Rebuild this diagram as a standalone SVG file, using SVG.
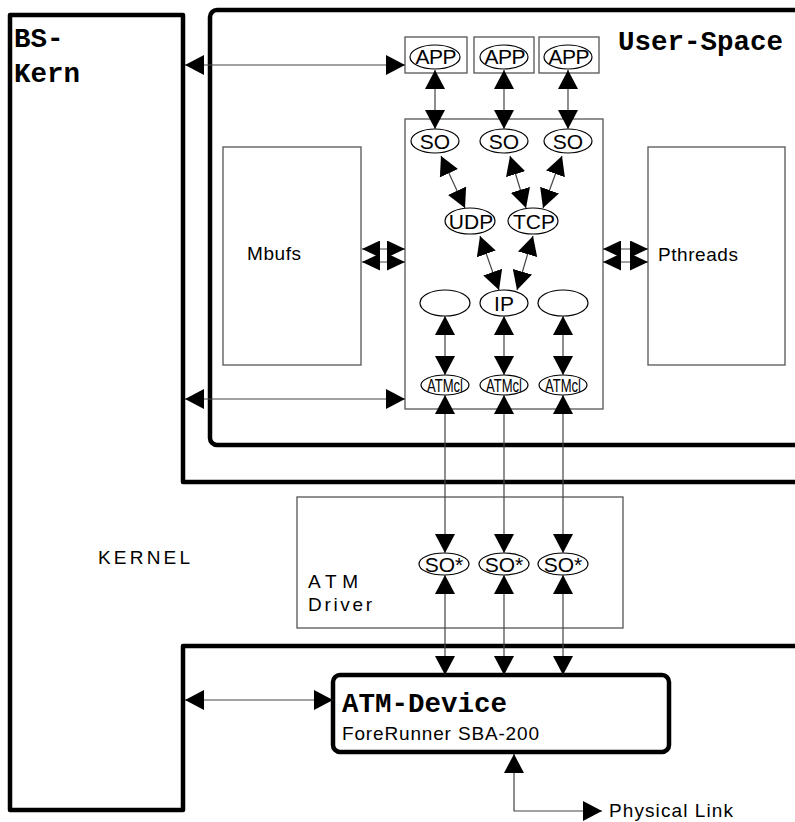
<svg xmlns="http://www.w3.org/2000/svg" width="795" height="822" viewBox="0 0 795 822">
<style>
.thick{fill:none;stroke:#000;stroke-width:4.5;stroke-linejoin:round}
.box{fill:#fff;stroke:#555;stroke-width:1.3}
.ell{fill:#fff;stroke:#000;stroke-width:1.2}
.con{fill:none;stroke:#444;stroke-width:1.2;marker-start:url(#ah);marker-end:url(#ah)}
.con2{fill:none;stroke:#444;stroke-width:1.2;marker-start:url(#as);marker-end:url(#as)}
.mono{font-family:"Liberation Mono","Courier New",monospace;font-weight:bold;font-size:27.5px;fill:#000}
.sans{font-family:"Liberation Sans",Arial,sans-serif;font-size:19px;fill:#000}
.el{font-family:"Liberation Sans",Arial,sans-serif;font-size:21px;fill:#000;text-anchor:middle}
.atm{font-family:"Liberation Sans",Arial,sans-serif;font-size:19px;fill:#000;text-anchor:middle}
</style>
<defs>
<marker id="ah" viewBox="0 0 19 20" refX="19" refY="10" markerWidth="19" markerHeight="20" markerUnits="userSpaceOnUse" orient="auto-start-reverse"><path d="M0,0 L19,10 L0,20 z" fill="#000"/></marker>
<marker id="as" viewBox="0 0 18 17" refX="18" refY="8.5" markerWidth="18" markerHeight="17" markerUnits="userSpaceOnUse" orient="auto-start-reverse"><path d="M0,0 L18,8.5 L0,17 z" fill="#000"/></marker>
</defs>
<rect width="795" height="822" fill="#fff"/>

<g id="kernel">
<path class="thick" d="M800,482 H183 V15 H10 V810 H183 V646 H800"/>
<text class="mono" x="14" y="47">BS-</text>
<text class="mono" x="14" y="82">Kern</text>
<text class="sans" x="98" y="564" font-size="16" textLength="92">KERNEL</text>
</g>

<g id="user-space">
<rect class="thick" x="210" y="10" width="640" height="435" rx="7"/>
<text class="mono" x="618" y="50">User-Space</text>
</g>

<g id="mbufs">
<rect class="box" x="223" y="147" width="138" height="218"/>
<text class="sans" x="247" y="260" textLength="54">Mbufs</text>
</g>

<g id="pthreads">
<rect class="box" x="648" y="147" width="137" height="218"/>
<text class="sans" x="658" y="261" textLength="80">Pthreads</text>
</g>

<g id="stack">
<rect class="box" x="405" y="119" width="198" height="290"/>
</g>

<g id="app1"><rect class="box" x="405" y="37" width="62" height="36"/><ellipse class="ell" cx="435" cy="57" rx="25" ry="12"/><text class="el" x="436" y="64" textLength="41">APP</text></g>
<g id="app2"><rect class="box" x="474" y="37" width="60" height="36"/><ellipse class="ell" cx="504" cy="57" rx="24" ry="12"/><text class="el" x="505" y="64" textLength="41">APP</text></g>
<g id="app3"><rect class="box" x="539" y="37" width="60" height="36"/><ellipse class="ell" cx="568" cy="57" rx="24" ry="12"/><text class="el" x="569" y="64" textLength="41">APP</text></g>

<g id="so1"><ellipse class="ell" cx="435" cy="141" rx="24" ry="12"/><text class="el" x="435" y="149">SO</text></g>
<g id="so2"><ellipse class="ell" cx="504" cy="141" rx="24" ry="12"/><text class="el" x="504" y="149">SO</text></g>
<g id="so3"><ellipse class="ell" cx="568" cy="141" rx="24" ry="12"/><text class="el" x="568" y="149">SO</text></g>

<g id="udp"><ellipse class="ell" cx="470" cy="221" rx="25" ry="13"/><text class="el" x="471" y="229">UDP</text></g>
<g id="tcp"><ellipse class="ell" cx="533" cy="221" rx="25" ry="13"/><text class="el" x="534" y="229">TCP</text></g>

<g id="e1"><ellipse class="ell" cx="445" cy="303" rx="25" ry="13"/></g>
<g id="ip"><ellipse class="ell" cx="504" cy="303" rx="24" ry="13"/><text class="el" x="504" y="311">IP</text></g>
<g id="e3"><ellipse class="ell" cx="563" cy="303" rx="25" ry="13"/></g>

<g id="atmcl1"><ellipse class="ell" cx="445" cy="385" rx="24" ry="10"/><text class="atm" x="445" y="392" textLength="36" lengthAdjust="spacingAndGlyphs">ATMcl</text></g>
<g id="atmcl2"><ellipse class="ell" cx="504" cy="385" rx="24" ry="10"/><text class="atm" x="504" y="392" textLength="36" lengthAdjust="spacingAndGlyphs">ATMcl</text></g>
<g id="atmcl3"><ellipse class="ell" cx="563" cy="385" rx="24" ry="10"/><text class="atm" x="563" y="392" textLength="36" lengthAdjust="spacingAndGlyphs">ATMcl</text></g>

<g id="atm-driver">
<rect class="box" x="297" y="497" width="326" height="131"/>
<text class="sans" x="308" y="588" font-size="18" textLength="50">ATM</text>
<text class="sans" x="308" y="611" font-size="18" textLength="64">Driver</text>
</g>
<g id="sostar1"><ellipse class="ell" cx="444" cy="564" rx="25" ry="11"/><text class="el" x="444" y="572">SO*</text></g>
<g id="sostar2"><ellipse class="ell" cx="504" cy="564" rx="25" ry="11"/><text class="el" x="504" y="572">SO*</text></g>
<g id="sostar3"><ellipse class="ell" cx="563" cy="564" rx="25" ry="11"/><text class="el" x="563" y="572">SO*</text></g>

<g id="atm-device">
<rect class="thick" x="333" y="675" width="336" height="77" rx="7"/>
<text class="mono" x="342" y="712">ATM-Device</text>
<text class="sans" x="342" y="740" textLength="197">ForeRunner SBA-200</text>
</g>

<g id="physical-link">
<text class="sans" x="609" y="817" textLength="124">Physical Link</text>
</g>

<g id="connectors">
<path class="con" d="M185,65 H405"/>
<path class="con" d="M185,399 H405"/>
<path class="con" d="M185,700 H333"/>
<path class="con" d="M435,70 V129"/>
<path class="con" d="M504,70 V129"/>
<path class="con" d="M568,70 V129"/>
<path class="con" d="M441,156 L465,208"/>
<path class="con" d="M510,156 L526,208"/>
<path class="con" d="M562,156 L543,208"/>
<path class="con" d="M480,236 L499,290"/>
<path class="con" d="M533,236 L517,290"/>
<path class="con" d="M445,316 V375"/>
<path class="con" d="M504,316 V375"/>
<path class="con" d="M563,316 V375"/>
<path class="con" d="M445,395 V553"/>
<path class="con" d="M504,395 V553"/>
<path class="con" d="M563,395 V553"/>
<path class="con" d="M445,575 V675"/>
<path class="con" d="M504,575 V675"/>
<path class="con" d="M563,575 V675"/>
<path class="con" d="M514,754 V811 H602"/>
<path class="con2" d="M362,249 H405"/>
<path class="con2" d="M362,262 H405"/>
<path class="con2" d="M603,249 H648"/>
<path class="con2" d="M603,262 H648"/>
</g>
</svg>
